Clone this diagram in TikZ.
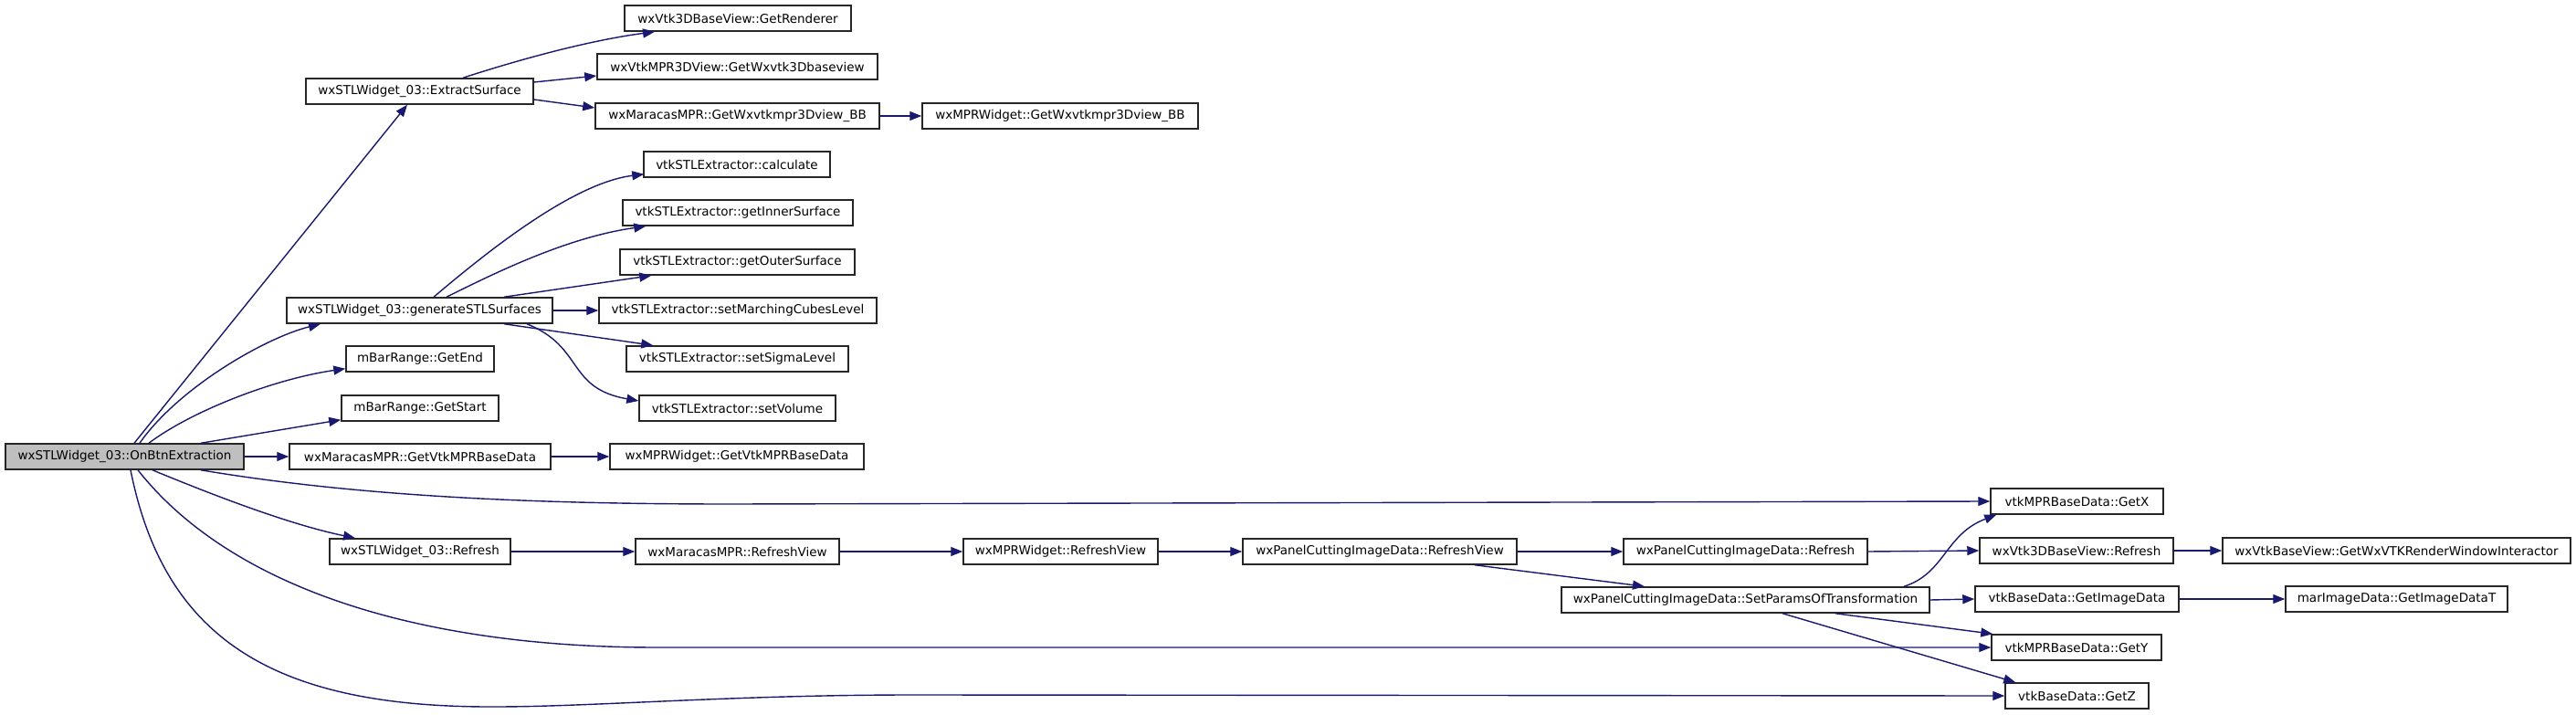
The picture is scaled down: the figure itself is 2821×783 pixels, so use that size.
\documentclass[tikz,border=0pt]{standalone}
\usepackage{fontspec}
\setmainfont{DejaVu Sans}
\usetikzlibrary{arrows.meta}
\definecolor{edgec}{RGB}{25,25,112}
\definecolor{mainfill}{RGB}{191,191,191}
\begin{document}
\begin{tikzpicture}[x=1pt,y=-1pt,
 box/.style={draw=black!85,line width=1.5pt,fill=white,minimum height=28pt,inner sep=0pt,font=\fontsize{13.5}{16}\selectfont},
 edge/.style={draw=edgec,line width=1.4pt,-{Triangle[length=13pt,width=10pt]}}]
\useasboundingbox[fill=white] (0,0) rectangle (2821,783);
% nodes
\node[box,minimum width=261pt,fill=mainfill] (main) at (136.5,500) {wxSTLWidget\_03::OnBtnExtraction};
\node[box,minimum width=249pt] (es) at (459.5,100) {wxSTLWidget\_03::ExtractSurface};
\node[box,minimum width=248pt] (gr) at (808,20) {wxVtk3DBaseView::GetRenderer};
\node[box,minimum width=307pt] (gw3) at (807.5,73) {wxVtkMPR3DView::GetWxvtk3Dbaseview};
\node[box,minimum width=311pt] (mbb) at (807.5,127) {wxMaracasMPR::GetWxvtkmpr3Dview\_BB};
\node[box,minimum width=302pt] (wbb) at (1161,127) {wxMPRWidget::GetWxvtkmpr3Dview\_BB};
\node[box,minimum width=291pt] (gen) at (459.5,340) {wxSTLWidget\_03::generateSTLSurfaces};
\node[box,minimum width=204pt] (calc) at (807,180) {vtkSTLExtractor::calculate};
\node[box,minimum width=252pt] (inner) at (808,233) {vtkSTLExtractor::getInnerSurface};
\node[box,minimum width=257pt] (outer) at (807.5,287) {vtkSTLExtractor::getOuterSurface};
\node[box,minimum width=304pt] (smc) at (808,340) {vtkSTLExtractor::setMarchingCubesLevel};
\node[box,minimum width=162pt] (gend) at (460,393) {mBarRange::GetEnd};
\node[box,minimum width=243pt] (ssl) at (807.5,393) {vtkSTLExtractor::setSigmaLevel};
\node[box,minimum width=172pt] (gstart) at (460,447) {mBarRange::GetStart};
\node[box,minimum width=215pt] (svol) at (807.5,447) {vtkSTLExtractor::setVolume};
\node[box,minimum width=286pt] (mgv) at (460,500) {wxMaracasMPR::GetVtkMPRBaseData};
\node[box,minimum width=278pt] (wgv) at (807,500) {wxMPRWidget::GetVtkMPRBaseData};
\node[box,minimum width=198pt] (sref) at (460,604) {wxSTLWidget\_03::Refresh};
\node[box,minimum width=223pt] (mrv) at (807.5,604) {wxMaracasMPR::RefreshView};
\node[box,minimum width=213pt] (wrv) at (1161.5,604) {wxMPRWidget::RefreshView};
\node[box,minimum width=300pt] (prv) at (1511,604) {wxPanelCuttingImageData::RefreshView};
\node[box,minimum width=267pt] (pref) at (1911.5,604) {wxPanelCuttingImageData::Refresh};
\node[box,minimum width=403pt] (spt) at (1911.5,657) {wxPanelCuttingImageData::SetParamsOfTransformation};
\node[box,minimum width=189pt] (gx) at (2274.5,549) {vtkMPRBaseData::GetX};
\node[box,minimum width=212pt] (vref) at (2274,603) {wxVtk3DBaseView::Refresh};
\node[box,minimum width=381pt] (inter) at (2624.5,603) {wxVtkBaseView::GetWxVTKRenderWindowInteractor};
\node[box,minimum width=223pt] (gid) at (2274.5,656) {vtkBaseData::GetImageData};
\node[box,minimum width=243pt] (gidt) at (2624.5,656) {marImageData::GetImageDataT};
\node[box,minimum width=186pt] (gy) at (2274,709) {vtkMPRBaseData::GetY};
\node[box,minimum width=157pt] (gz) at (2274.5,762) {vtkBaseData::GetZ};
% edges from main
\draw[edge] ([xshift=10.5pt]main.north) -- ([xshift=-13.5pt]es.south);
\draw[edge] ([xshift=16.5pt]main.north) .. controls (195,425) and (290,370) .. ([xshift=-108.5pt]gen.south);
\draw[edge] ([xshift=26.5pt]main.north) .. controls (210,450) and (300,415) .. ([yshift=4pt]gend.south west);
\draw[edge] ([xshift=83.5pt]main.north) -- ([yshift=2pt]gstart.south west);
\draw[edge] (main.east) -- (mgv.west);
\draw[edge] ([xshift=83.5pt]main.south) .. controls (400,545) and (600,552) .. (800,552) -- (gx.west);
\draw[edge] ([xshift=30.5pt]main.south) .. controls (240,545) and (320,575) .. ([xshift=-71pt]sref.north);
\draw[edge] ([xshift=14.5pt]main.south) .. controls (250,640) and (450,709) .. (720,709) -- (gy.west);
\draw[edge] ([xshift=6.5pt]main.south) .. controls (180,700) and (300,775) .. (542,774) .. controls (650,774) and (800,761) .. (1000,761) -- (gz.west);
% ExtractSurface
\draw[edge] ([xshift=47.5pt]es.north) .. controls (560,68) and (640,45) .. ([xshift=-91pt]gr.south);
\draw[edge] ([yshift=10pt]es.east) -- ([yshift=-10pt]gw3.west);
\draw[edge] ([yshift=-9pt]es.east) -- ([yshift=9pt]mbb.west);
\draw[edge] (mbb.east) -- (wbb.west);
% generateSTLSurfaces
\draw[edge] ([xshift=15.5pt]gen.north) .. controls (540,270) and (630,200) .. ([xshift=1pt,yshift=4pt]calc.south west);
\draw[edge] ([xshift=29.5pt]gen.north) .. controls (540,300) and (620,260) .. ([xshift=26pt]inner.south west);
\draw[edge] ([xshift=92.5pt]gen.north) -- ([xshift=35pt]outer.south west);
\draw[edge] (gen.east) -- (smc.west);
\draw[edge] ([xshift=92.5pt]gen.south) -- ([xshift=30pt]ssl.north west);
\draw[edge] ([xshift=117.5pt]gen.south) .. controls (640,380) and (620,425) .. ([yshift=8pt]svol.west);
% GetVtkMPRBaseData
\draw[edge] (mgv.east) -- (wgv.west);
% Refresh chain
\draw[edge] (sref.east) -- (mrv.west);
\draw[edge] (mrv.east) -- (wrv.west);
\draw[edge] (wrv.east) -- (prv.west);
\draw[edge] (prv.east) -- (pref.west);
\draw[edge] (pref.east) -- (vref.west);
\draw[edge] (vref.east) -- (inter.west);
\draw[edge] ([xshift=104pt]prv.south) -- ([xshift=-110.5pt]spt.north);
% SetParamsOfTransformation
\draw[edge] ([xshift=173.5pt]spt.north) .. controls (2130,628) and (2130,585) .. ([xshift=7pt]gx.south west);
\draw[edge] (spt.east) -- (gid.west);
\draw[edge] (gid.east) -- (gidt.west);
\draw[edge] ([xshift=98.5pt]spt.south) -- ([xshift=2pt]gy.north west);
\draw[edge] ([xshift=40.5pt]spt.south) -- ([xshift=12pt]gz.north west);
\end{tikzpicture}
\end{document}
